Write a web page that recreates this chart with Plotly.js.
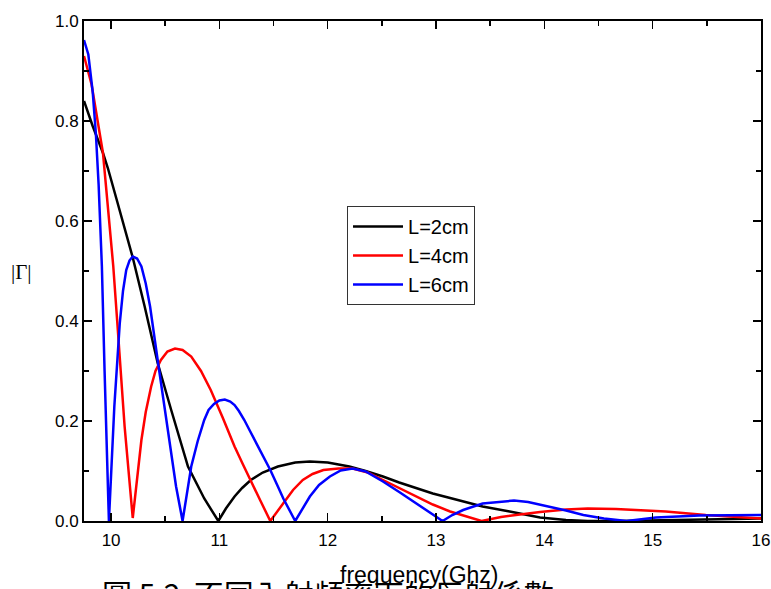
<!DOCTYPE html>
<html>
<head>
<meta charset="utf-8">
<script src="https://cdn.plot.ly/plotly-3.0.1.min.js"></script>
<style>html,body{margin:0;padding:0;background:#fff;}#chart{width:771px;height:589px;}</style>
</head>
<body>
<div id="chart"></div>
<script>
// Series names
const seriesNames = ["L=2cm", "L=4cm", "L=6cm"];

// L=2cm (black)
const freqL2 = [9.75, 9.83, 9.925, 9.97, 10.05, 10.156, 10.2, 10.31, 10.43, 10.555, 10.71, 10.86, 10.99, 11.06, 11.14, 11.21, 11.29, 11.4, 11.54, 11.7, 11.835, 12.0, 12.2, 12.35, 12.51, 12.66, 12.82, 12.97, 13.13, 13.28, 13.43, 13.68, 13.96, 14.2, 14.4, 14.7, 15.0, 15.5, 16.0];
const gammaL2 = [0.84, 0.79, 0.736, 0.706, 0.644, 0.562, 0.527, 0.429, 0.316, 0.222, 0.109, 0.045, 0.0, 0.025, 0.049, 0.066, 0.082, 0.097, 0.109, 0.117, 0.119, 0.117, 0.109, 0.1, 0.089, 0.077, 0.065, 0.055, 0.046, 0.037, 0.029, 0.019, 0.007, 0.002, 0.0, 0.0, 0.001, 0.003, 0.005];

// L=4cm (red)
const freqL4 = [9.75, 9.82, 9.925, 9.97, 10.0, 10.02, 10.06, 10.125, 10.2, 10.24, 10.28, 10.32, 10.37, 10.41, 10.46, 10.52, 10.59, 10.66, 10.74, 10.83, 10.92, 11.03, 11.14, 11.22, 11.3, 11.38, 11.47, 11.59, 11.68, 11.77, 11.86, 11.96, 12.1, 12.23, 12.37, 12.51, 12.66, 12.82, 12.97, 13.13, 13.42, 13.6, 13.8, 13.96, 14.2, 14.4, 14.66, 15.12, 15.49, 16.0];
const gammaL4 = [0.93, 0.873, 0.736, 0.633, 0.562, 0.51, 0.389, 0.189, 0.006, 0.088, 0.162, 0.218, 0.269, 0.3, 0.322, 0.339, 0.345, 0.342, 0.329, 0.3, 0.262, 0.207, 0.149, 0.112, 0.075, 0.04, 0.0, 0.035, 0.062, 0.082, 0.094, 0.102, 0.105, 0.105, 0.097, 0.082, 0.066, 0.049, 0.033, 0.019, 0.0, 0.008, 0.014, 0.018, 0.023, 0.025, 0.024, 0.019, 0.012, 0.005];

// L=6cm (blue)
const freqL6 = [9.75, 9.79, 9.83, 9.86, 9.885, 9.90, 9.915, 9.94, 9.98, 10.03, 10.08, 10.11, 10.14, 10.17, 10.2, 10.24, 10.28, 10.32, 10.36, 10.43, 10.52, 10.6, 10.66, 10.70, 10.74, 10.80, 10.86, 10.90, 10.95, 11.0, 11.05, 11.10, 11.14, 11.18, 11.23, 11.28, 11.34, 11.42, 11.47, 11.54, 11.59, 11.70, 11.835, 11.92, 12.02, 12.12, 12.23, 12.35, 12.51, 12.66, 12.82, 12.94, 13.06, 13.15, 13.25, 13.43, 13.59, 13.72, 13.85, 14.05, 14.2, 14.36, 14.55, 14.76, 15.03, 15.43, 15.7, 16.0];
const gammaL6 = [0.962, 0.933, 0.859, 0.773, 0.673, 0.59, 0.51, 0.30, 0.0, 0.229, 0.395, 0.46, 0.502, 0.521, 0.529, 0.525, 0.509, 0.475, 0.429, 0.322, 0.189, 0.069, 0.0, 0.055, 0.109, 0.16, 0.202, 0.222, 0.234, 0.241, 0.243, 0.239, 0.232, 0.22, 0.202, 0.181, 0.157, 0.125, 0.102, 0.069, 0.045, 0.0, 0.049, 0.072, 0.089, 0.101, 0.105, 0.099, 0.079, 0.058, 0.035, 0.017, 0.0, 0.012, 0.022, 0.035, 0.039, 0.041, 0.038, 0.029, 0.021, 0.012, 0.005, 0.0, 0.007, 0.011, 0.012, 0.012];

const colors = ["#000000", "#ff0000", "#0000ff"];

// Axis ticks
const xTickVals = [10, 11, 12, 13, 14, 15, 16];
const xTickText = ["10", "11", "12", "13", "14", "15", "16"];
const yTickVals = [0.0, 0.2, 0.4, 0.6, 0.8, 1.0];
const yTickText = ["0.0", "0.2", "0.4", "0.6", "0.8", "1.0"];

const xs = [freqL2, freqL4, freqL6];
const ys = [gammaL2, gammaL4, gammaL6];

const traces = seriesNames.map((n, i) => ({
  x: xs[i], y: ys[i], name: n, type: "scatter", mode: "lines",
  line: {color: colors[i], width: 2.5}
}));

const axisCommon = {
  showline: true, linecolor: "#000", linewidth: 2, mirror: "ticks",
  ticks: "inside", ticklen: 8, tickwidth: 1.5, tickcolor: "#000",
  showgrid: false, zeroline: false,
  tickfont: {family: "Liberation Sans, Arial, sans-serif", size: 17, color: "#000"}
};

const layout = {
  width: 771, height: 589,
  margin: {l: 84, r: 10, t: 21, b: 68},
  paper_bgcolor: "#fff", plot_bgcolor: "#fff",
  showlegend: true,
  xaxis: Object.assign({}, axisCommon, {
    range: [9.75, 16], tickmode: "array", tickvals: xTickVals, ticktext: xTickText,
    ticklabelstandoff: 3,
    minor: {dtick: 0.5, tick0: 10, ticks: "inside", ticklen: 5, tickwidth: 1.5, tickcolor: "#000"}
  }),
  yaxis: Object.assign({}, axisCommon, {
    range: [0, 1.0], tickmode: "array", tickvals: yTickVals, ticktext: yTickText,
    minor: {dtick: 0.1, tick0: 0, ticks: "inside", ticklen: 5, tickwidth: 1.5, tickcolor: "#000"}
  }),
  legend: {
    x: 0.3885, y: 0.63, xanchor: "left", yanchor: "top",
    bgcolor: "#fff", bordercolor: "#333", borderwidth: 1,
    font: {family: "Liberation Sans, Arial, sans-serif", size: 20, color: "#000"},
    itemwidth: 50, tracegroupgap: 0
  },
  annotations: [
    {text: "圖 5.2  不同入射頻率下的反射係數", xref: "paper", yref: "paper", x: 0.024, y: -0.096,
     xanchor: "left", yanchor: "top", showarrow: false,
     font: {family: "Noto Sans CJK TC, sans-serif", size: 30, color: "#000"}},
    {text: "frequency(Ghz)", xref: "paper", yref: "paper", x: 0.496, y: -0.108,
     xanchor: "center", yanchor: "middle", showarrow: false,
     font: {family: "Liberation Sans, Arial, sans-serif", size: 23, color: "#000"}},
    {text: "|Γ|", xref: "paper", yref: "paper", x: -0.0916, y: 0.498,
     xanchor: "center", yanchor: "middle", showarrow: false,
     font: {family: "Liberation Serif, Times New Roman, serif", size: 21, color: "#000"}}
  ]
};

Plotly.newPlot("chart", traces, layout, {staticPlot: true, displayModeBar: false});
</script>
</body>
</html>
